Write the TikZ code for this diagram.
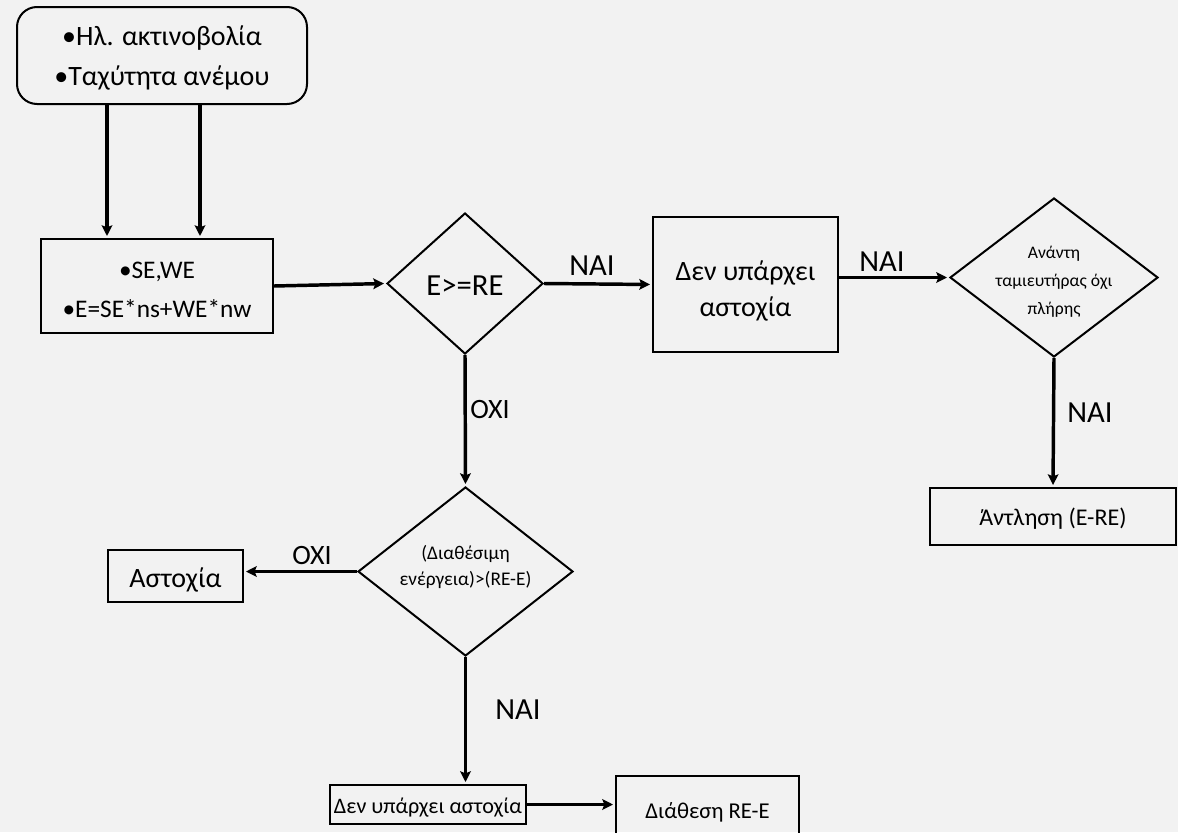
\documentclass[tikz,border=0pt]{standalone}
\usepackage{fontspec}
\setmainfont{Carlito}
\usetikzlibrary{shapes.geometric,arrows.meta}
\definecolor{bg}{HTML}{F2F2F2}
\begin{document}
\begin{tikzpicture}[x=0.75pt,y=-0.75pt,
  every node/.style={inner sep=0pt, align=center, text=black},
  box/.style={draw, line width=1.5pt},
  dia/.style={draw, line width=1.5pt, diamond},
  arr/.style={line width=2.6pt, -{Stealth[length=8pt,width=8pt,inset=1.5pt]}, shorten >=1.5pt},
  fs/.style={font=\fontsize{#1pt}{\dimexpr #1pt*12/10\relax}\selectfont},
  lbl/.style={fs=23}]
\useasboundingbox (0,0) rectangle (1178,832);
\clip (0,0) rectangle (1178,832);
\fill[bg] (0,0) rectangle (1178,832);

% shapes
\node[box, rounded corners=15pt, minimum width=290*0.75pt, minimum height=97*0.75pt] (top) at (162,55.5) {};
\node[box, minimum width=232*0.75pt, minimum height=94*0.75pt] (se) at (157,286) {};
\node[dia, minimum width=156*0.75pt, minimum height=141*0.75pt] (d1) at (465,283.5) {};
\node[box, minimum width=185*0.75pt, minimum height=135*0.75pt] (ok1) at (745.5,284.5) {};
\node[dia, minimum width=208*0.75pt, minimum height=159*0.75pt] (d2) at (1054,277.5) {};
\node[box, minimum width=246*0.75pt, minimum height=57*0.75pt] (pump) at (1053,516.5) {};
\node[dia, minimum width=215*0.75pt, minimum height=169*0.75pt] (d3) at (465.5,571.5) {};
\node[box, minimum width=135*0.75pt, minimum height=52*0.75pt] (fail) at (175.5,576) {};
\node[box, minimum width=196*0.75pt, minimum height=39*0.75pt] (ok2) at (428,804.5) {};
\node[box, minimum width=183*0.75pt, minimum height=60*0.75pt] (disp) at (707.5,806) {};

% texts
\node[fs=21] (topt) at (162,58) {•Ηλ. ακτινοβολία\\[5pt]•Ταχύτητα ανέμου};
\node[fs=19] (set) at (157,290) {•SE,WE\\[7pt]•E=SE*ns+WE*nw};
\node[fs=23] (d1t) at (465,286) {E>=RE};
\node[fs=21] (ok1t) at (745.5,291) {Δεν υπάρχει\\[2pt]αστοχία};
\node[fs=13.2] (d2t) at (1054,282) {Ανάντη\\[5pt]ταμιευτήρας όχι\\[5pt]πλήρης};
\node[fs=18] (pumpt) at (1053,519) {Άντληση (E-RE)};
\node[fs=14.5] (d3t) at (465.5,567) {(Διαθέσιμη\\[2pt]ενέργεια)>(RE-E)};
\node[fs=21] (failt) at (175.5,580) {Αστοχία};
\node[fs=16.6] (ok2t) at (428,808) {Δεν υπάρχει αστοχία};
\node[fs=17] (dispt) at (707.5,812) {Διάθεση RE-E};

\coordinate (a1) at (107,0);
\coordinate (a2) at (200,0);
\draw[arr] (top.south -| a1) -- (se.north -| a1);
\draw[arr] (top.south -| a2) -- (se.north -| a2);
\draw[arr] (se.east) -- (d1.west);
\draw[arr] (d1.east) -- (ok1.west);
\draw[arr] (ok1.east |- d2.west) -- (d2.west);
\draw[arr] (d2.south) -- (pump.north);
\draw[arr] (d1.south) -- (d3.north);
\draw[arr] (d3.west) -- (fail.east |- d3.west);
\draw[arr] (d3.south) -- (ok2.north -| d3.south);
\draw[arr] (ok2.east) -- (disp.west |- ok2.east);

\node[lbl] (l1) at (592,266) {ΝΑΙ};
\node[lbl] (l2) at (882,262) {ΝΑΙ};
\node[lbl] (l3) at (1090,413) {ΝΑΙ};
\node[fs=21] (l4) at (490,410) {ΟΧΙ};
\node[fs=21] (l5) at (312,556) {ΟΧΙ};
\node[lbl] (l6) at (518,710) {ΝΑΙ};
\end{tikzpicture}
\end{document}
